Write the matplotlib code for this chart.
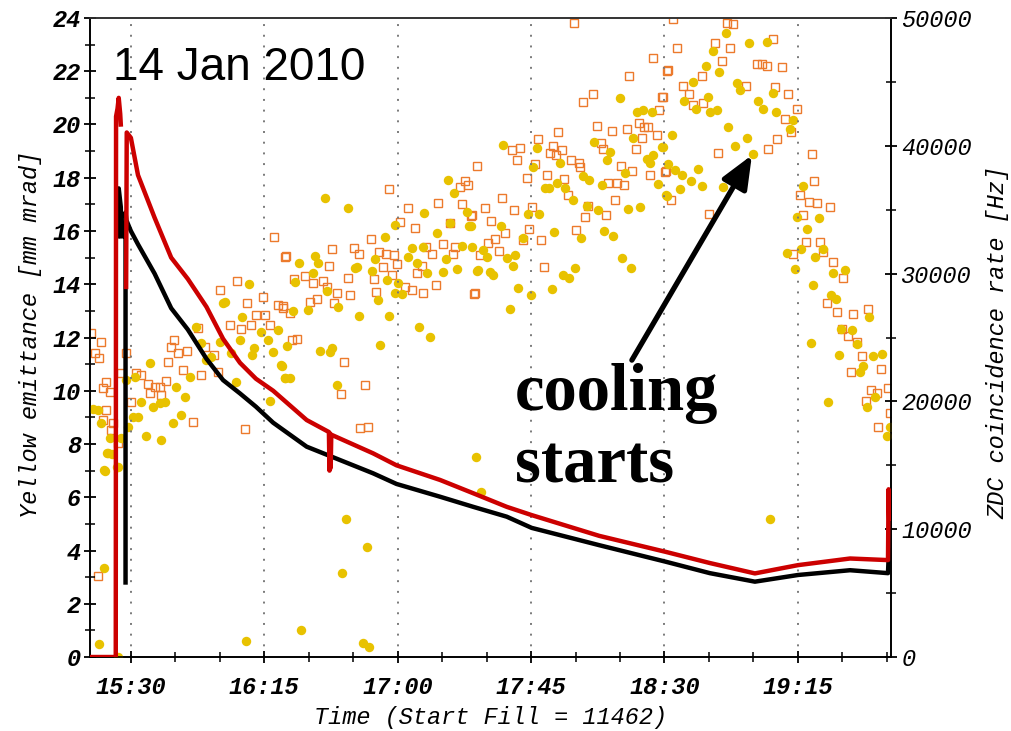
import numpy as np
import matplotlib
matplotlib.use("Agg")
import matplotlib.pyplot as plt
from matplotlib.ticker import MultipleLocator, FixedLocator, FuncFormatter

# time is in minutes after 15:00
red_t = [16.2, 24.9, 25.0, 25.5, 25.9, 26.4, 26.6, np.nan, 28.4, 28.6, 30.0, 32.4, 38.0, 43.6, 49.2,
         55.5, 61.1, 66.8, 72.2, 78.0, 89.3, 96.8, 97.0, 97.2, 97.4, 97.6, 111.7, 119.6, 134.3,
         145.5, 156.8, 165.2, 188.0, 210.4, 225.3, 240.5, 255.0, 272.6, 285.4, 285.6, 285.8]
red_v = [0, 0, 20.3, 20.6, 21.0, 20.4, 20.0, np.nan, 13.9, 19.7, 19.5, 18.1, 16.5, 15.0, 14.2,
         13.15, 11.95, 11.05, 10.45, 10.0, 8.9, 8.45, 7.0, 8.4, 7.1, 8.35, 7.65, 7.2, 6.65,
         6.15, 5.64, 5.33, 4.55, 3.95, 3.53, 3.14, 3.45, 3.70, 3.64, 6.3, 5.2]

black_t = [25.4, 25.9, 26.6, 26.8, np.nan, 28.2, 28.2, 28.5, 30.0, 32.4, 38.0, 43.6, 49.2, 55.5,
           61.1, 66.8, 72.2, 78.0, 89.3, 100.5, 111.7, 119.6, 134.3, 145.5, 156.8, 165.2, 188.0,
           210.4, 225.3, 240.5, 255.0, 272.6, 285.4, 285.7]
black_v = [15.8, 17.6, 16.9, 15.8, np.nan, 2.8, 16.7, 16.4, 16.0, 15.5, 14.4, 13.1, 12.3, 11.2,
           10.4, 9.9, 9.4, 8.8, 7.9, 7.4, 6.9, 6.5, 6.02, 5.64, 5.27, 4.85, 4.2,
           3.58, 3.15, 2.83, 3.08, 3.26, 3.15, 4.0]

# ZDC rate, open squares
sq_t = [16.6, 20.0, 17.8, 19.4, 28.2, 21.7, 20.6, 22.8, 26.7, 31.8, 33.5, 21.7, 20.6, 23.9, 23.4,
        25.6, 30.1, 35.7, 38.0, 39.7, 41.9, 36.3, 40.2, 42.5, 43.6, 44.5, 45.9, 49.0, 47.6, 50.9,
        52.6, 54.9, 53.5, 58.2, 59.4, 60.1, 63.3, 65.9, 69.2, 67.2, 70.6, 72.3, 74.5, 75.1, 76.8,
        78.3, 81.9, 79.6, 81.3, 68.4, 19.0,
        82.3, 85.0, 88.7, 91.5, 94.7, 96.9, 97.7, 96.0, 92.7, 90.4, 99.7, 98.5, 81.4, 83.7, 85.9,
        84.2, 103.1, 103.9, 105.2, 106.8, 110.9, 113.6, 116.0, 118.7, 115.1, 112.0, 112.7, 118.2,
        119.7, 117.0, 120.8, 123.6, 125.8, 122.5, 124.7, 128.6, 126.6, 128.1, 129.5, 131.5, 132.9,
        133.7, 135.2, 137.6, 138.8, 139.3, 141.6, 141.0, 142.7, 143.8, 144.6, 146.1, 146.6, 102.0,
        109.0, 100.8, 107.3, 110.1,
        179.5, 206.0, 210.8, 198.1, 186.0, 182.4, 209.1, 208.3, 187.1, 192.2, 197.3, 201.5, 203.1,
        204.5, 207.4, 202.3, 200.4, 188.6, 189.4, 174.2, 167.2, 172.5, 175.3, 171.4, 173.4, 161.3,
        158.5, 160.3, 166.3, 178.5, 181.3, 181.5, 163.5, 170.5, 176.2, 177.6, 195.3, 198.9, 205.1,
        210.5, 191.0, 193.9, 196.3, 193.3, 155.1, 149.4, 159.2, 165.2, 184.3, 190.3, 183.2, 151.5,
        145.0, 156.2, 152.8, 150.6, 147.8, 154.3, 164.4, 168.2, 162.4, 180.1, 169.4, 145.7,
        213.0, 231.0, 233.2, 214.3, 227.0, 232.1, 229.3, 222.6, 211.3, 241.1, 242.8, 244.5, 246.5,
        249.6, 216.4, 218.4, 209.4, 219.7, 223.1, 237.5, 247.3, 251.8, 254.6, 250.7, 252.7, 247.9,
        245.0, 228.2, 259.7, 210.2, 260.5, 212.2, 225.1, 255.7, 258.8, 261.6, 265.8, 256.6, 257.7,
        262.5, 263.6, 253.5, 266.8, 270.3, 264.7, 268.1, 273.7, 278.8, 269.8, 272.0, 274.9, 276.5,
        283.1, 272.8, 279.6, 278.0, 281.8, 285.5, 282.1, 286.1]
sq_hz = [25330, 24670, 23770, 23370, 23810, 21540, 21030, 20760, 22200, 22250, 22070, 19330, 18550,
         18290, 17760, 16720, 19980, 21360, 21150, 21100, 21600, 20640, 20500, 23110, 24280, 24810,
         23770, 23970, 22460, 18410, 25720, 24280, 22070, 23630, 22330, 28720, 25980, 29420, 27680,
         25640, 25980, 26760, 28150, 26760, 25980, 32840, 31320, 27540, 27290, 17820, 6360,
         31380, 29560, 29810, 29240, 29420, 30620, 31900, 28980, 27990, 27800, 28460, 27720, 27470,
         26900, 24860, 24810, 29630, 28330, 32030, 31540, 32730, 31670, 31510, 31460, 30490, 29580,
         28560, 29870, 30730, 36620, 34020, 35110, 33550, 28980, 28720, 28510, 30070, 30620, 32110,
         31540, 29110, 35550, 32320, 33980, 31540, 32110, 35450, 36750, 37270, 36930, 34530, 28460,
         38440, 23110, 21280, 20560, 17900, 18020,
         49590, 46900, 45880, 45490, 44060, 43450, 43840, 42800, 41550, 41160, 41290, 41810, 41450,
         41450, 40850, 40590, 39750, 40200, 39730, 41060, 40510, 39990, 39670, 39420, 39280, 39810,
         39670, 38890, 38580, 38890, 38680, 38370, 37510, 37720, 37380, 36150, 38440, 38030, 37720,
         38030, 37070, 37110, 36930, 35760, 35890, 35110, 34980, 35240, 35290, 34590, 34450, 34140,
         34590, 33160, 32690, 32420, 31460, 31770, 33470, 32630, 32630, 33410, 30490, 28410,
         49900, 49590, 49530, 47630, 48070, 47680, 46660, 45490, 45930, 46380, 46380, 46250, 48380,
         46140, 44700, 44060, 43840, 43190, 43370, 44700, 44580, 44060, 42880, 42100, 41110, 40530,
         39730, 39420, 39340, 37980, 37270, 35760, 34670, 36150, 35630, 35550, 35240, 34590, 32500,
         32450, 31720, 31540, 30890, 29680, 27680, 26970, 26820, 27230, 25640, 25120, 24670, 23580,
         22510, 22280, 20890, 20060, 20640, 21030, 17970, 19070]

# ZDC rate, filled circles
ci_t = [17.2, 18.9, 20.0, 22.8, 22.2, 21.1, 25.6, 26.7, 29.0, 30.7, 32.4, 28.4, 31.3, 36.3, 33.5,
        37.4, 39.7, 35.2, 40.0, 41.4, 45.3, 48.3, 47.0, 44.2, 49.8, 52.0, 53.7, 55.4, 57.1, 59.9,
        61.0, 61.6, 63.8, 66.7, 65.5, 67.5, 69.8, 71.5, 70.9, 74.0, 76.2, 77.9, 79.6, 80.5, 81.9,
        76.8,
        19.3, 20.9, 21.2, 25.4, 21.8, 23.5, 25.7, 68.8, 87.4, 102.4, 109.5, 101.1, 108.2, 110.3,
        146.4, 148.1, 245.6,
        95.5, 103.3, 92.1, 93.2, 86.7, 91.3, 85.3, 96.0, 99.9, 89.8, 84.8, 105.6, 106.4, 111.2,
        112.3, 115.7, 116.3, 113.4, 107.0, 117.2, 119.1, 120.2, 119.1, 121.3, 123.6, 124.7, 126.4,
        114.0, 93.8, 97.7, 97.1, 82.7, 80.9, 82.0, 83.7, 99.4, 129.0, 128.6, 130.0, 127.3, 130.9,
        135.2, 133.4, 137.1, 139.0, 136.3, 137.6, 140.1, 141.6, 143.3, 144.1, 145.0, 146.6,
        195.0, 200.6, 202.7, 205.7, 199.5, 209.1, 155.6, 166.9, 186.2, 191.6, 206.2, 204.0, 205.1,
        190.5, 174.8, 165.7, 196.7, 207.9, 182.6, 184.6, 173.8, 188.8, 169.7, 171.1, 176.4, 179.0,
        183.8, 197.8, 201.7, 187.7, 164.1, 167.8, 154.7, 144.7, 172.7, 189.6, 192.5, 181.7, 162.2,
        148.9, 150.0, 156.8, 159.6, 158.8, 147.2, 151.1, 152.0, 175.9, 177.9, 179.8, 195.8, 198.7,
        160.7, 165.0, 172.0, 157.9, 210.8,
        230.8, 238.6, 244.5, 226.5, 223.9, 228.5, 219.7, 216.6, 220.6, 224.8, 225.4, 227.8, 234.6,
        235.5, 241.5, 243.1, 246.7, 247.6, 253.5, 252.4, 231.5, 237.9, 233.8, 239.8, 212.6, 209.6,
        211.3, 213.6, 215.8, 218.8, 221.4, 222.8, 215.2, 210.5, 229.8, 256.8, 262.1, 254.6, 258.0,
        251.2, 256.1, 260.8, 263.6, 254.0, 267.0, 270.9, 260.2, 266.1, 267.9, 279.1, 269.6, 273.2,
        259.3, 274.9, 269.0, 280.3, 283.3, 276.9, 276.0, 265.3, 278.2, 281.0, 285.0, 286.1]
ci_hz = [19380, 19330, 18290, 17110, 15940, 14630, 14890, 17110, 18020, 18800, 18760, 21680, 21930,
         23030, 19980, 19540, 19900, 17290, 16980, 19980, 21150, 20320, 18940, 18290, 21930, 25850,
         24550, 23240, 23500, 24670, 27680, 27800, 23770, 24810, 21540, 26630, 29190, 24160, 23630,
         25460, 24810, 23890, 25590, 22850, 21810, 20030,
         990, 6940, 14580, 14890, 15940, 15890, 0, 1280, 2110, 10800, 8630, 6550, 1120, 760,
         15670, 12940, 10800,
         35890, 35110, 31380, 30810, 30850, 30030, 29370, 28660, 27360, 27150, 27100, 30420, 30490,
         30230, 31120, 32890, 29500, 27940, 26680, 26680, 33800, 29240, 28460, 28410, 31320, 31980,
         30850, 24410, 23970, 24160, 23890, 24340, 22790, 21810, 21810, 21280, 34720, 32110, 30030,
         25850, 25060, 30150, 33200, 37330, 36290, 31120, 33980, 30360, 32160, 34850, 33730, 32110,
         30230,
         43720, 42670, 42800, 42670, 40590, 39880, 40060, 39850, 40320, 39540, 39280, 38950, 38630,
         38890, 38680, 38370, 37850, 36990, 37640, 37330, 37110, 36930, 36680, 36720, 36680, 35760,
         35290, 35030, 35240, 34980, 34640, 34670, 33730, 33730, 33280, 33340, 32970, 32760, 32760,
         31850, 31320, 31200, 31460, 30600, 30280, 30150, 29890, 29890, 29630, 30420, 31250, 30420,
         28850, 28330, 28770, 27230, 36070,
         48810, 48070, 48150, 47420, 46250, 45800, 44970, 43510, 42860, 43840, 42670, 42800, 44890,
         44370, 43530, 42880, 44110, 42670, 42020, 41290, 41500, 40640, 39990, 39340, 40850, 39930,
         38580, 38110, 37720, 37270, 38160, 36860, 36620, 36150, 36750, 36880, 34380, 34450, 33490,
         31640, 31900, 31280, 31900, 30360, 30030, 30280, 29090, 28330, 28010, 26630, 25640, 25590,
         24550, 24470, 23630, 23580, 23690, 22770, 22330, 19980, 19540, 20370, 17320, 18020]

major_min = [30, 75, 120, 165, 210, 255]

mono = "Liberation Mono"

fig = plt.figure(figsize=(10.12, 7.31), dpi=100)
ax = fig.add_axes([0.0889, 0.1012, 0.7915, 0.8742])
ax2 = ax.twinx()

ax2.plot(sq_t, sq_hz, "s", ms=6.4, mfc="none", mec="#ec7a2c", mew=1.0, zorder=2)
ax2.plot(ci_t, ci_hz, "o", ms=6.8, mfc="#e8c200", mec="#e8c200", mew=0, zorder=3)
ax2.set_ylim(0, 50000)

ax.plot(red_t, red_v, color="#cc0000", lw=3.2, zorder=4)
ax.plot(black_t, black_v, color="black", lw=3.2, zorder=3)
ax.set_zorder(ax2.get_zorder() + 1)
ax.patch.set_visible(False)

ax.set_xlim(16.2, 286.4)
ax.set_ylim(0, 24)

for m in major_min:
    ax.axvline(m, color="#7a7a7a", lw=1.4, ls=(0, (1, 4.5)), zorder=1)

fmt_time = FuncFormatter(lambda v, p: "%d:%02d" % (15 + int(v) // 60, int(v) % 60))
ax.xaxis.set_major_locator(FixedLocator(major_min))
ax.xaxis.set_minor_locator(MultipleLocator(15))
ax.xaxis.set_major_formatter(fmt_time)
ax.yaxis.set_major_locator(MultipleLocator(2))
ax.yaxis.set_minor_locator(MultipleLocator(1))
ax2.yaxis.set_major_locator(MultipleLocator(10000))
ax2.yaxis.set_minor_locator(MultipleLocator(5000))
ax2.yaxis.set_major_formatter(FuncFormatter(lambda v, p: "%d" % v))

tick_font = dict(family=mono, weight="bold", style="italic", size=17)
ax.tick_params(axis="both", which="major", direction="inout", length=9, width=1.3)
ax.tick_params(axis="both", which="minor", direction="inout", length=7, width=1.1)
ax.tick_params(axis="x", pad=9)
ax.tick_params(axis="y", pad=2)
ax2.tick_params(axis="y", which="major", direction="inout", length=9, width=1.3, pad=3)
ax2.tick_params(axis="y", which="minor", direction="inout", length=7, width=1.1)
for lab in ax.get_xticklabels() + ax.get_yticklabels():
    lab.set_fontproperties(tick_font)
for lab in ax2.get_yticklabels():
    lab.set_fontproperties(dict(family=mono, style="italic", size=17))

for a in (ax, ax2):
    for s in a.spines.values():
        s.set_linewidth(1.2)
    a.spines["top"].set_color("#333333")

label_font = dict(family=mono, style="italic", size=17)
fig.text(0.030, 0.542, "Yellow emittance [mm mrad]", rotation=90, ha="center", va="center", **label_font)
fig.text(0.986, 0.532, "ZDC coincidence rate [Hz]", rotation=90, ha="center", va="center", **label_font)
fig.text(0.485, 0.018, "Time (Start Fill = 11462)", ha="center", va="center", **label_font)

fig.text(0.1117, 0.8906, "14 Jan 2010", family="Liberation Sans", size=33, va="baseline")
fig.text(0.5089, 0.4391, "cooling", family="Liberation Serif", weight="bold", size=48, va="baseline")
fig.text(0.5089, 0.3406, "starts", family="Liberation Serif", weight="bold", size=48, va="baseline")

ax.annotate("", xy=(239.5, 18.85), xytext=(199.0, 11.15),
            arrowprops=dict(arrowstyle="-|>,head_width=0.42,head_length=1.0", color="black",
                            lw=3.8, mutation_scale=20, shrinkA=0, shrinkB=0), zorder=6)

fig.savefig("out.png", dpi=100)
